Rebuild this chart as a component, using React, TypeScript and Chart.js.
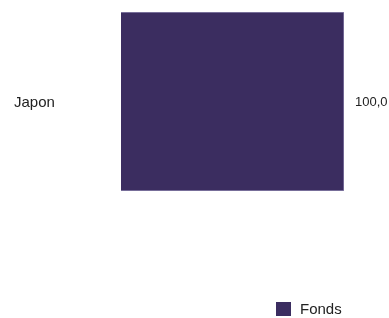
import React, { useEffect, useRef } from "react";
import { Chart, registerables } from "chart.js";

Chart.register(...registerables);

const categories = ["Japon"];
const seriesName = "Fonds";
const fondsValues = [100.0];
const barColor = "#3b2d60";
const borderColor = "#8c84ad";

const fmt = (v: number) => v.toFixed(1).replace(".", ",");

const labelsPlugin = {
  id: "customLabels",
  afterDatasetsDraw(chart: any) {
    const ctx = chart.ctx;
    const meta = chart.getDatasetMeta(0);
    ctx.save();
    ctx.fillStyle = "#222222";
    ctx.textBaseline = "middle";
    ctx.textAlign = "left";
    meta.data.forEach((bar: any, i: number) => {
      ctx.font = "15px 'Liberation Sans', Arial, sans-serif";
      ctx.fillText(categories[i], 14, bar.y + 1);
      ctx.font = "13px 'Liberation Sans', Arial, sans-serif";
      ctx.fillText(fmt(fondsValues[i]), bar.x + 11, bar.y + 1);
    });
    // legend
    ctx.fillStyle = barColor;
    ctx.fillRect(276, 302, 15, 14);
    ctx.fillStyle = "#222222";
    ctx.font = "15px 'Liberation Sans', Arial, sans-serif";
    ctx.fillText(seriesName, 300, 309.5);
    ctx.restore();
  },
};

export default function App() {
  const ref = useRef<HTMLCanvasElement>(null);
  useEffect(() => {
    if (!ref.current) return;
    const chart = new Chart(ref.current, {
      type: "bar",
      data: {
        labels: categories,
        datasets: [
          {
            label: seriesName,
            data: fondsValues,
            backgroundColor: barColor,
            borderColor: borderColor,
            borderWidth: 1,
            barPercentage: 1,
            categoryPercentage: 1,
          },
        ],
      },
      options: {
        indexAxis: "y",
        responsive: false,
        animation: false,
        layout: { padding: { left: 121, right: 45, top: 12, bottom: 127 } },
        scales: {
          x: { display: false, min: 0, max: 100 },
          y: { display: false },
        },
        plugins: {
          legend: { display: false },
          tooltip: { enabled: false },
        },
      },
      plugins: [labelsPlugin],
    });
    return () => chart.destroy();
  }, []);
  return (
    <div style={{ position: "absolute", left: 0, top: 0, width: 389, height: 318, background: "#fff" }}>
      <canvas ref={ref} width={389} height={318} style={{ display: "block" }} />
    </div>
  );
}
